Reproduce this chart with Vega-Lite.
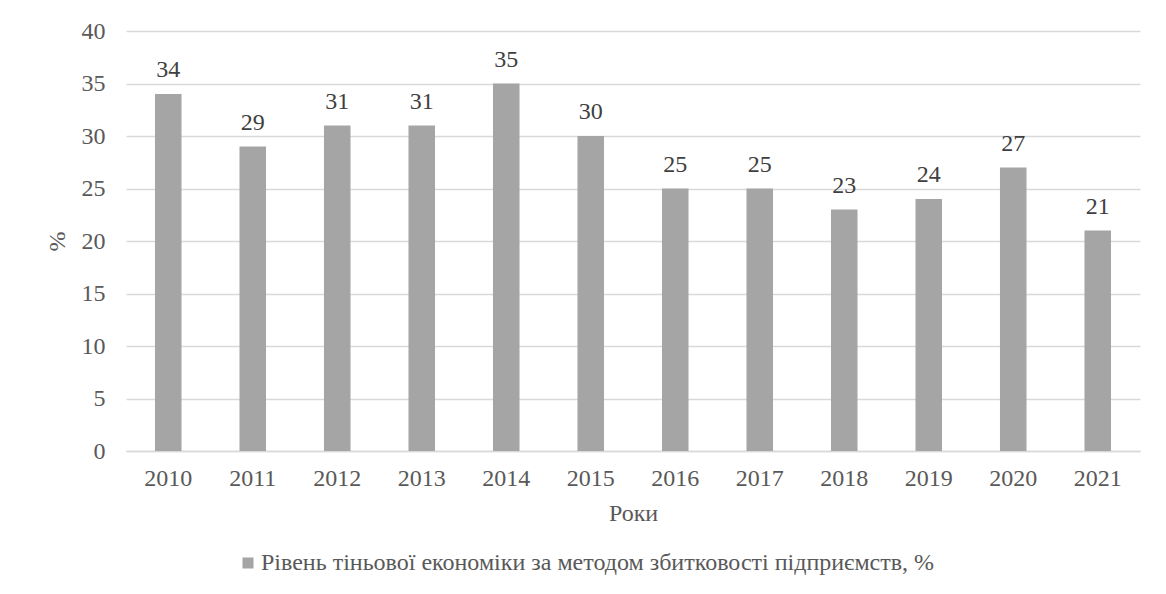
{
  "$schema": "https://vega.github.io/schema/vega-lite/v6.json",
  "autosize": {"type": "none"},
  "width": 1014,
  "height": 420,
  "padding": {"left": 126, "top": 31, "right": 26, "bottom": 143},
  "background": "white",
  "data": {
    "values": [
      {"year": "2010", "value": 34, "series": "Рівень тіньової економіки за методом збитковості підприємств, %"},
      {"year": "2011", "value": 29, "series": "Рівень тіньової економіки за методом збитковості підприємств, %"},
      {"year": "2012", "value": 31, "series": "Рівень тіньової економіки за методом збитковості підприємств, %"},
      {"year": "2013", "value": 31, "series": "Рівень тіньової економіки за методом збитковості підприємств, %"},
      {"year": "2014", "value": 35, "series": "Рівень тіньової економіки за методом збитковості підприємств, %"},
      {"year": "2015", "value": 30, "series": "Рівень тіньової економіки за методом збитковості підприємств, %"},
      {"year": "2016", "value": 25, "series": "Рівень тіньової економіки за методом збитковості підприємств, %"},
      {"year": "2017", "value": 25, "series": "Рівень тіньової економіки за методом збитковості підприємств, %"},
      {"year": "2018", "value": 23, "series": "Рівень тіньової економіки за методом збитковості підприємств, %"},
      {"year": "2019", "value": 24, "series": "Рівень тіньової економіки за методом збитковості підприємств, %"},
      {"year": "2020", "value": 27, "series": "Рівень тіньової економіки за методом збитковості підприємств, %"},
      {"year": "2021", "value": 21, "series": "Рівень тіньової економіки за методом збитковості підприємств, %"}
    ]
  },
  "config": {
    "font": "Liberation Serif",
    "view": {"stroke": null},
    "text": {"font": "Liberation Serif"},
    "legend": {"labelFont": "Liberation Serif", "titleFont": "Liberation Serif"},
    "axis": {"labelFont": "Liberation Serif", "titleFont": "Liberation Serif", "labelColor": "#595959", "titleColor": "#595959", "labelFontSize": 24, "titleFontSize": 24, "titleFontWeight": "normal"}
  },
  "encoding": {
    "x": {
      "field": "year", "type": "nominal", "sort": null,
      "scale": {"paddingInner": 0.686, "paddingOuter": 0.343},
      "axis": {"title": "Роки", "labelAngle": 0, "labelPadding": 15, "titlePadding": 11, "ticks": false, "domainColor": "#D9D9D9", "domainWidth": 1.5}
    },
    "y": {
      "field": "value", "type": "quantitative",
      "scale": {"domain": [0, 40], "nice": false},
      "axis": {"title": "%", "values": [0, 5, 10, 15, 20, 25, 30, 35, 40], "domain": false, "ticks": false, "labelPadding": 21, "titlePadding": 12, "gridColor": "#D9D9D9", "gridWidth": 1.5}
    }
  },
  "layer": [
    {
      "mark": {"type": "bar", "color": "#A5A5A5"},
      "encoding": {
        "color": {
          "field": "series", "type": "nominal",
          "scale": {"range": ["#A5A5A5"]},
          "legend": {"title": null, "orient": "none", "legendX": 110, "legendY": 520, "symbolType": "square", "symbolSize": 121, "symbolStrokeWidth": 0, "labelFont": "Liberation Serif", "labelFontSize": 24, "labelColor": "#595959", "labelLimit": 1000, "symbolOffset": 0, "labelOffset": 1}
        }
      }
    },
    {
      "mark": {"type": "text", "baseline": "alphabetic", "dy": -17, "fontSize": 24, "color": "#404040", "font": "Liberation Serif"},
      "encoding": {"text": {"field": "value", "type": "quantitative"}}
    }
  ]
}
